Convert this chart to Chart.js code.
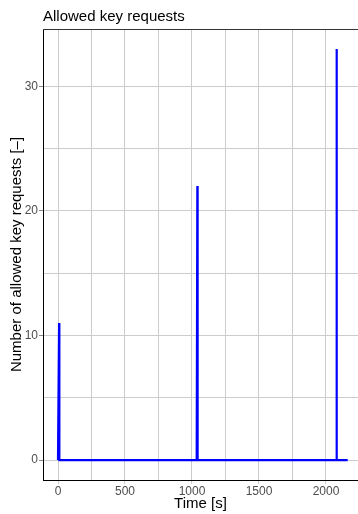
<!DOCTYPE html>
<html>
<head>
<meta charset="utf-8">
<title>Allowed key requests</title>
<script src="https://cdn.jsdelivr.net/npm/chart.js@4/dist/chart.umd.min.js"></script>
<style>
  html, body { margin: 0; padding: 0; background: #ffffff; }
  #wrap { width: 358px; height: 514px; overflow: hidden; }
</style>
</head>
<body>
<div id="wrap"><canvas id="c" width="358" height="514"></canvas></div>
<script>
// Simulation time (s) and number of allowed key requests at that time
const timeSeconds = [0, 8, 10, 1035, 1040, 1042, 2075, 2079, 2081, 2162];
const allowedRequests = [0, 11, 0, 0, 22, 0, 0, 33, 0, 0];

// Axis grid positions; only some of them carry a label
const xGridValues = [0, 250, 500, 750, 1000, 1250, 1500, 1750, 2000];
const xLabelValues = [0, 500, 1000, 1500, 2000];
const yGridValues = [0, 5, 10, 15, 20, 25, 30];
const yLabelValues = [0, 10, 20, 30];

const FONT = "'Liberation Sans', Arial, Helvetica, sans-serif";
const GRID = '#cccccc';
const TICK_MARK = '#8a8a8a';

const points = timeSeconds.map((t, i) => ({ x: t, y: allowedRequests[i] }));

// Thin frame line along the top of the plotting panel
const topFrame = {
  id: 'topFrame',
  afterDatasetsDraw(chart) {
    const { ctx, chartArea } = chart;
    ctx.save();
    ctx.strokeStyle = '#333333';
    ctx.lineWidth = 1;
    ctx.beginPath();
    ctx.moveTo(chartArea.left, Math.round(chartArea.top) + 0.5);
    ctx.lineTo(chartArea.right, Math.round(chartArea.top) + 0.5);
    ctx.stroke();
    ctx.restore();
  }
};

new Chart(document.getElementById('c'), {
  type: 'line',
  data: {
    datasets: [{
      data: points,
      borderColor: '#0000ff',
      borderWidth: 2.2,
      pointRadius: 0,
      tension: 0,
      fill: false
    }]
  },
  options: {
    responsive: false,
    animation: false,
    layout: { padding: 0 },
    plugins: {
      legend: { display: false },
      tooltip: { enabled: false },
      title: {
        display: true,
        text: 'Allowed key requests',
        align: 'start',
        fullSize: false,
        color: '#000000',
        font: { family: FONT, size: 15, weight: 'normal', lineHeight: 1.2 },
        padding: { top: 8, bottom: 3 }
      }
    },
    scales: {
      x: {
        type: 'linear',
        min: -112,
        max: 2239,
        afterBuildTicks(scale) {
          scale.ticks = xGridValues.map(v => ({ value: v }));
        },
        afterFit(scale) { scale.height = 34; },
        ticks: {
          autoSkip: false,
          maxRotation: 0,
          padding: 0,
          color: '#4d4d4d',
          font: { family: FONT, size: 12 },
          callback: v => (xLabelValues.includes(v) ? String(v) : '')
        },
        grid: {
          color: GRID,
          lineWidth: 1,
          drawTicks: true,
          tickLength: 4,
          tickColor: ctx => (ctx.tick && xLabelValues.includes(ctx.tick.value) ? GRID : 'rgba(0,0,0,0)')
        },
        border: { display: true, color: '#000000', width: 1 },
        title: {
          display: true,
          text: 'Time [s]',
          color: '#000000',
          font: { family: FONT, size: 15, lineHeight: 1.2 },
          padding: { top: 0, bottom: 1 }
        }
      },
      y: {
        type: 'linear',
        min: -1.6,
        max: 34.6,
        afterBuildTicks(scale) {
          scale.ticks = yGridValues.map(v => ({ value: v }));
        },
        afterFit(scale) { scale.width = 43; },
        ticks: {
          autoSkip: false,
          padding: 1,
          color: '#4d4d4d',
          font: { family: FONT, size: 12 },
          callback: v => (yLabelValues.includes(v) ? String(v) : '')
        },
        grid: {
          color: GRID,
          lineWidth: 1,
          drawTicks: true,
          tickLength: 4,
          tickColor: ctx => (ctx.tick && yLabelValues.includes(ctx.tick.value) ? TICK_MARK : 'rgba(0,0,0,0)')
        },
        border: { display: true, color: '#000000', width: 1 },
        title: {
          display: true,
          text: 'Number of allowed key requests [–]',
          color: '#000000',
          font: { family: FONT, size: 15, lineHeight: 1.2 },
          padding: { top: 8, bottom: 0 }
        }
      }
    }
  },
  plugins: [topFrame]
});
</script>
</body>
</html>
